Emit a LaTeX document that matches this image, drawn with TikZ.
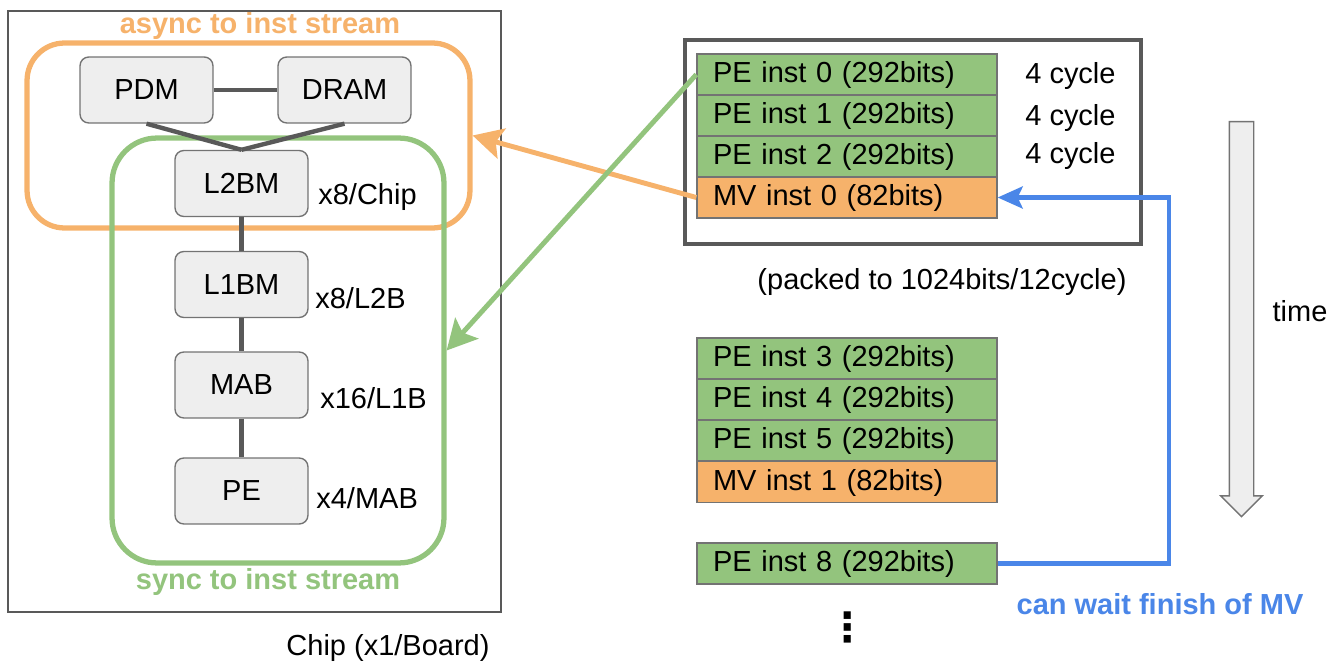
\documentclass[tikz,border=0pt]{standalone}
\usepackage{fontspec}
\setmainfont{Liberation Sans}
\newfontfamily\dotsfont{DejaVu Sans}
\usetikzlibrary{arrows.meta,shapes.arrows}
\definecolor{peInst}{RGB}{147,196,125}
\definecolor{mvInst}{RGB}{246,178,107}
\definecolor{waitBlue}{RGB}{74,134,232}
\definecolor{unitFill}{RGB}{238,238,238}
\definecolor{wireGray}{RGB}{89,89,89}
\newcommand{\diagsize}{\fontsize{16.5}{19.8}\selectfont}
\tikzset{
    every node/.append style={font=\diagsize},
    unitbox/.style={rectangle,draw=black!55,fill=unitFill,line width=0.8pt,rounded corners=5pt,
        minimum width=2.66cm,minimum height=1.32cm,inner sep=0pt},
    instrow/.style={rectangle,draw=black!55,line width=0.8pt,minimum width=6cm,minimum height=0.82cm,
        text width=5.36cm,inner xsep=0.32cm,inner ysep=0pt,text height=0.95em,text depth=0pt,align=left},
    regionbox/.style={rectangle,line width=3pt,rounded corners=0.75cm,inner sep=0pt},
    framebox/.style={rectangle,draw=wireGray,inner sep=0pt},
    wire/.style={draw=wireGray,line width=2.5pt},
    arr/.style={-{Stealth[length=0.6cm,width=0.62cm,inset=0.12cm]},line width=2.8pt},
    warr/.style={-{Stealth[length=0.5cm,width=0.44cm,inset=0.1cm]},line width=2.5pt,draw=waitBlue},
    multlbl/.style={anchor=west,inner sep=0pt},
    notelbl/.style={font=\diagsize\bfseries,inner sep=0pt}
}

\begin{document}
\begin{tikzpicture}[x=0.02cm,y=-0.02cm]
    \useasboundingbox (0,0) rectangle (1343,662);

    % chip hierarchy
    \node[framebox,line width=1.4pt,minimum width=9.86cm,minimum height=12.02cm] (chip) at (254.5,311.5) {};
    \node (chiplbl) at (388,648) {Chip (x1/Board)};

    \node[regionbox,draw=mvInst,minimum width=8.86cm,minimum height=3.7cm] (async) at (248.5,135.5) {};
    \node[regionbox,draw=peInst,rounded corners=0.9cm,minimum width=6.64cm,minimum height=8.5cm] (sync) at (278,350.5) {};
    \node[notelbl,text=mvInst] (asynclbl) at (260,26)  {async to inst stream};
    \node[notelbl,text=peInst] (synclbl)  at (268,582) {sync to inst stream};

    \node[unitbox] (pdm)  at (146.5,90)    {PDM};
    \node[unitbox] (dram) at (344.5,90)    {DRAM};
    \node[unitbox] (l2bm) at (241.5,183.5) {L2BM};
    \node[unitbox] (l1bm) at (241.5,284.5) {L1BM};
    \node[unitbox] (mab)  at (241.5,385)   {MAB};
    \node[unitbox] (pe)   at (241.5,491)   {PE};

    \node[multlbl] (l2bmn) at (318,197) {x8/Chip};
    \node[multlbl] (l1bmn) at (315,298) {x8/L2B};
    \node[multlbl] (mabn)  at (320,398) {x16/L1B};
    \node[multlbl] (pen)   at (316,498) {x4/MAB};

    \draw[wire] (pdm) -- (dram);
    \draw[wire] (pdm.south) -- (l2bm.north);
    \draw[wire] (dram.south) -- (l2bm.north);
    \foreach \a/\b in {l2bm/l1bm,l1bm/mab,mab/pe} { \draw[wire] (\a) -- (\b); }

    % instruction stream
    \node[framebox,line width=2.4pt,minimum width=9.12cm,minimum height=4.08cm] (packet) at (913,142) {};

    \node[instrow,fill=peInst] (pe0) at (847,74.5)  {PE inst 0 (292bits)};
    \node[instrow,fill=peInst] (pe1) at (847,115.5) {PE inst 1 (292bits)};
    \node[instrow,fill=peInst] (pe2) at (847,156.5) {PE inst 2 (292bits)};
    \node[instrow,fill=mvInst] (mv0) at (847,197.5) {MV inst 0 (82bits)};

    \node[multlbl] (cyc0) at (1025,76)  {4 cycle};
    \node[multlbl] (cyc1) at (1025,118) {4 cycle};
    \node[multlbl] (cyc2) at (1025,156) {4 cycle};
    \node (packlbl) at (942,282) {(packed to 1024bits/12cycle)};

    \node[instrow,fill=peInst] (pe3) at (847,358.5) {PE inst 3 (292bits)};
    \node[instrow,fill=peInst] (pe4) at (847,399.5) {PE inst 4 (292bits)};
    \node[instrow,fill=peInst] (pe5) at (847,440.5) {PE inst 5 (292bits)};
    \node[instrow,fill=mvInst] (mv1) at (847,482)   {MV inst 1 (82bits)};
    \node[instrow,fill=peInst] (pe8) at (847,563.5) {PE inst 8 (292bits)};
    \node[font=\fontsize{23}{26}\selectfont\dotsfont\bfseries] (more) at (848,627) {⋮};

    \node[single arrow,draw=black!55,fill=unitFill,line width=0.8pt,rotate=-90,minimum height=7.9cm,
        inner xsep=0pt,inner ysep=0.23cm,single arrow head extend=0.17cm,single arrow tip angle=90] (timearr) at (1241.5,313) {};
    \node (timelbl) at (1300,311) {time};

    \draw[arr,draw=mvInst] (mv0.west) -- (async.east);
    \draw[arr,draw=peInst] (pe0.west) -- (sync.east);

    \coordinate (turn) at (1169,380);
    \draw[warr] (pe8.east) -| (turn) |- (mv0.east);
    \node[notelbl,text=waitBlue] (waitlbl) at (1160,604) {can wait finish of MV};
\end{tikzpicture}
\end{document}
